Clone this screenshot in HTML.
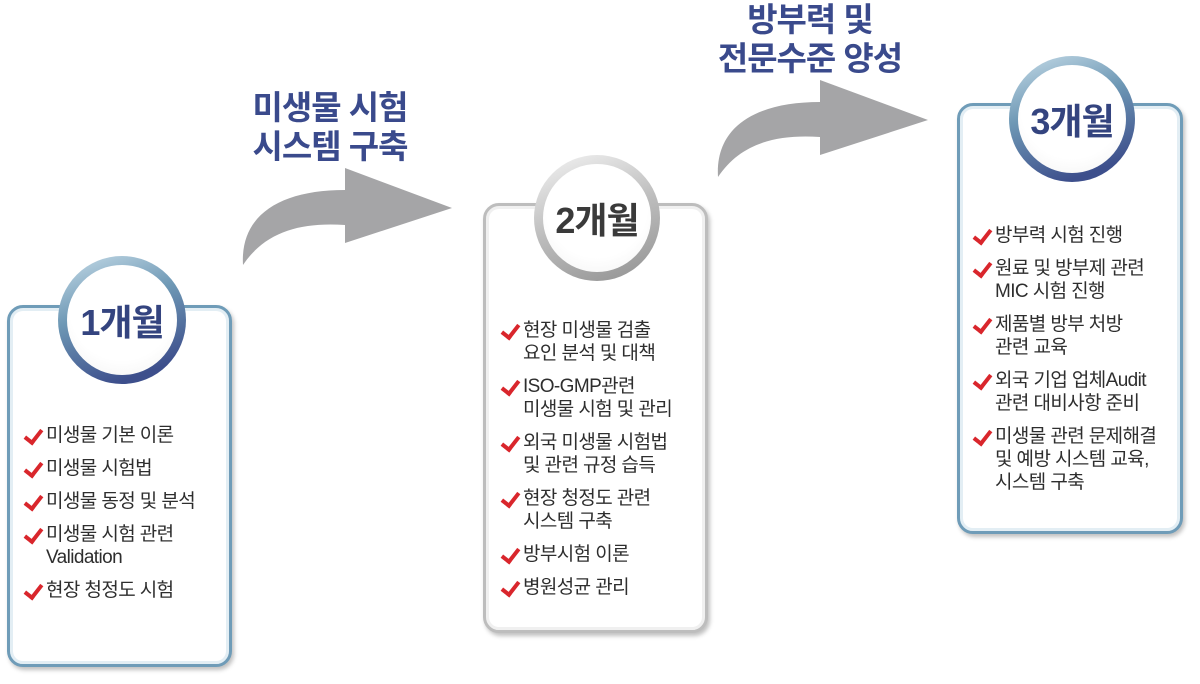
<!DOCTYPE html>
<html><head><meta charset="utf-8"><style>
body{margin:0;width:1200px;height:684px;background:#fff;position:relative;overflow:hidden;font-family:"Liberation Sans","Noto Sans CJK KR",sans-serif;}
.box{position:absolute;border-radius:16px;background:#fff;box-sizing:border-box;}
.b1,.b3{border:3px solid #6f9cb8;box-shadow:inset 0 0 0 3px #e3eef4,2px 3px 4px rgba(0,0,0,.25);}
.b2{border:3px solid #bdbdbd;box-shadow:inset 0 0 0 3px #f0f0f0,2px 3px 4px rgba(0,0,0,.25);}
.circ{position:absolute;border-radius:50%;box-sizing:border-box;}
.cb{background:linear-gradient(160deg,#c6dce8 0%,#6e98b5 40%,#3d4f8c 85%);}
.cg{background:linear-gradient(160deg,#f4f4f4 0%,#bcbcbc 50%,#9a9a9a 90%);}
.inner{position:absolute;left:9px;top:9px;right:9px;bottom:9px;border-radius:50%;background:radial-gradient(circle at 50% 40%,#fff 60%,#f0f0f0 100%);display:flex;align-items:center;justify-content:center;font-weight:bold;font-size:36px;letter-spacing:-1px;}
.blue{color:#34447f}
.grey{color:#3a3a3a}
.items{position:absolute;font-size:19px;color:#2e2e2e;line-height:23px;letter-spacing:-0.6px;}
.items div{position:relative;padding-left:22px;margin-bottom:10px;}
.items div::before{content:"";position:absolute;left:4px;top:2px;width:7px;height:14px;border-right:4px solid #d9262c;border-bottom:4px solid #d9262c;transform:rotate(38deg);}
.title{position:absolute;font-weight:bold;font-size:33px;color:#3a4a8c;line-height:39px;text-align:center;letter-spacing:-1px;}
</style></head><body>
<svg width="1200" height="684" style="position:absolute;left:0;top:0">
<path d="M243,265 C240,215 280,190 345,190 L345,168 L452,208 L345,243 L345,225 C300,222 265,232 243,265 Z" fill="#a5a5a7"/>
<path d="M718,177 C715,127 755,102 820,102 L820,80 L928,120 L820,155 L820,137 C775,134 740,144 718,177 Z" fill="#a5a5a7"/>
</svg>
<div class="title" style="left:235px;top:88px;width:190px">미생물 시험<br>시스템 구축</div>
<div class="title" style="left:700px;top:0px;width:220px">방부력 및<br>전문수준 양성</div>

<div class="box b1" style="left:7px;top:305px;width:225px;height:362px"></div>
<div class="circ cb" style="left:58px;top:256px;width:128px;height:128px"><div class="inner blue">1개월</div></div>
<div class="items" style="left:24px;top:424px">
<div>미생물 기본 이론</div><div>미생물 시험법</div><div>미생물 동정 및 분석</div><div>미생물 시험 관련<br>Validation</div><div>현장 청정도 시험</div></div>

<div class="box b2" style="left:483px;top:203px;width:225px;height:430px"></div>
<div class="circ cg" style="left:534px;top:155px;width:126px;height:126px"><div class="inner grey">2개월</div></div>
<div class="items" style="left:501px;top:319px">
<div>현장 미생물 검출<br>요인 분석 및 대책</div><div>ISO-GMP관련<br>미생물 시험 및 관리</div><div>외국 미생물 시험법<br>및 관련 규정 습득</div><div>현장 청정도 관련<br>시스템 구축</div><div>방부시험 이론</div><div>병원성균 관리</div></div>

<div class="box b3" style="left:957px;top:103px;width:226px;height:431px"></div>
<div class="circ cb" style="left:1009px;top:56px;width:126px;height:126px"><div class="inner blue">3개월</div></div>
<div class="items" style="left:973px;top:224px">
<div>방부력 시험 진행</div><div>원료 및 방부제 관련<br>MIC 시험 진행</div><div>제품별 방부 처방<br>관련 교육</div><div>외국 기업 업체Audit<br>관련 대비사항 준비</div><div>미생물 관련 문제해결<br>및 예방 시스템 교육,<br>시스템 구축</div></div>
</body></html>
